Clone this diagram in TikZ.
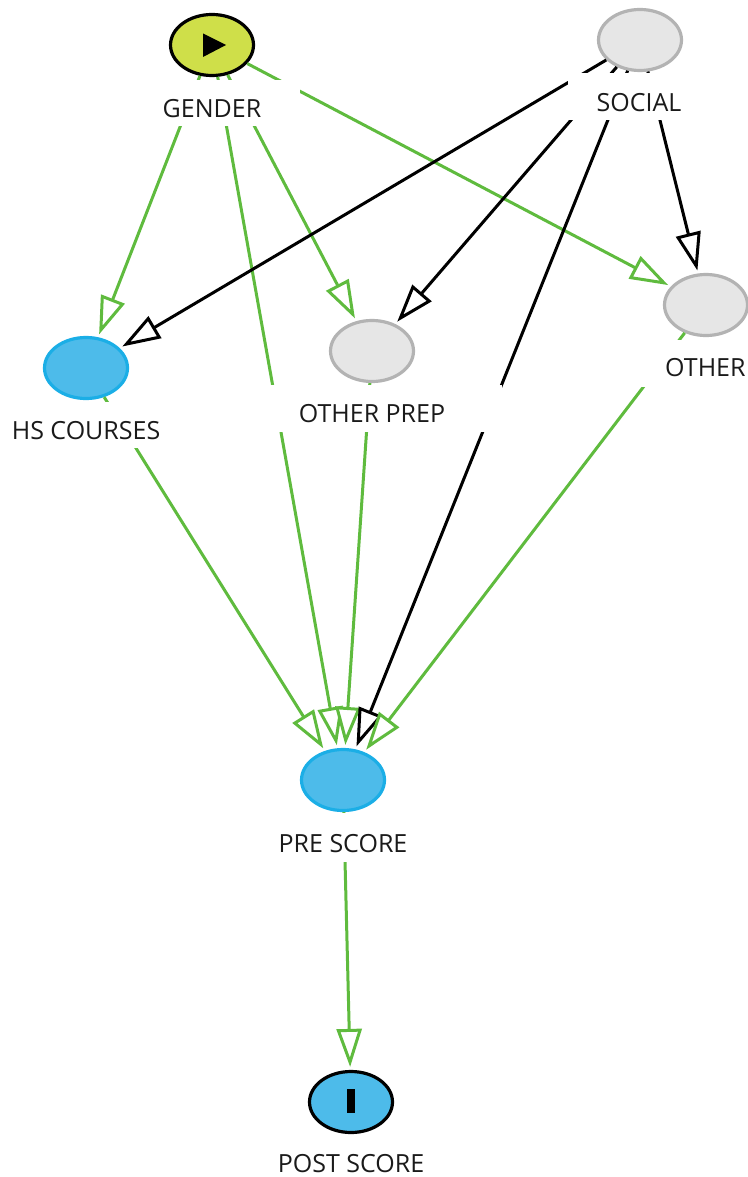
\documentclass[tikz,border=0pt]{standalone}
\usepackage{fontspec}
\setmainfont{Open Sans}
\usetikzlibrary{arrows.meta}
\usetikzlibrary{shapes.geometric}
\definecolor{edgegreen}{HTML}{5FBB3E}
\definecolor{limefill}{HTML}{CFDF49}
\definecolor{bluefill}{HTML}{4DBBEA}
\definecolor{blueline}{HTML}{1BAEE6}
\definecolor{greyfill}{HTML}{E6E6E6}
\definecolor{greyline}{HTML}{B3B3B3}
\definecolor{labelink}{HTML}{1A1A1A}
\tikzset{
  base/.style={ellipse,minimum width=83pt,minimum height=61pt,inner sep=0pt,line width=3.2pt,draw},
  exonode/.style={base,fill=limefill,draw=black},
  outnode/.style={base,fill=bluefill,draw=black},
  advnode/.style={base,fill=bluefill,draw=blueline},
  latnode/.style={base,fill=greyfill,draw=greyline},
  edgebase/.style={line width=3pt,-{Triangle[length=38pt,width=25pt,fill=white]},shorten >=3pt},
  causal/.style={edgebase,draw=edgegreen},
  biasing/.style={edgebase,draw=black},
  mask/.style={fill=white,draw=none,inner sep=0pt},
  vartext/.style={font=\fontsize{25}{28}\selectfont,text=labelink,inner sep=0pt},
  glyph/.style={fill=black,draw=none,inner sep=0pt}
}
\begin{document}
\begin{tikzpicture}[x=1pt,y=-1pt]
\useasboundingbox (0,0) rectangle (747,1177);
\node[exonode] (gender) at (212,45) {};
\node[latnode] (social) at (640,40) {};
\node[advnode] (hs) at (86,368) {};
\node[latnode] (prep) at (372,351) {};
\node[latnode] (other) at (706,305) {};
\node[advnode] (pre) at (343,780) {};
\node[outnode] (post) at (351,1102) {};
\draw[causal] (gender) -- (hs);
\draw[causal] (gender) -- (pre);
\draw[causal] (gender) -- (prep);
\draw[causal] (gender) -- (other);
\draw[biasing] (social) -- (hs);
\draw[biasing] (social) -- (prep);
\draw[biasing] (social) -- (other);
\draw[causal] (hs) -- (pre);
\draw[causal] (prep) -- (pre);
\draw[biasing] (social) -- (pre);
\draw[causal] (other) -- (pre);
\draw[causal] (pre) -- (post);
\node[mask,minimum width=176pt,minimum height=46pt] (genderbox) at (212,103) {};
\node[mask,minimum width=144pt,minimum height=47pt] (socialbox) at (640,96.5) {};
\node[mask,minimum width=172pt,minimum height=46pt] (hsbox) at (86,425) {};
\node[mask,minimum width=260pt,minimum height=47pt] (prepbox) at (372,408.5) {};
\node[mask,minimum width=107pt,minimum height=47pt] (otherbox) at (693.5,363.5) {};
\node[mask,minimum width=150pt,minimum height=49pt] (prebox) at (343,837) {};
\node[vartext] (genderlabel) at (212,109) {GENDER};
\node[vartext] (sociallabel) at (639,103) {SOCIAL};
\node[vartext] (hslabel) at (86,431) {HS COURSES};
\node[vartext] (preplabel) at (372,414) {OTHER PREP};
\node[vartext,anchor=west] (otherlabel) at (665,368) {OTHER};
\node[vartext] (prelabel) at (343,844) {PRE SCORE};
\node[vartext] (postlabel) at (351,1163.5) {POST SCORE};
\fill[glyph] (203,33.5) -- (226,45) -- (203,57) -- cycle;
\fill[glyph] (347,1089) rectangle (355,1113);
\end{tikzpicture}
\end{document}
